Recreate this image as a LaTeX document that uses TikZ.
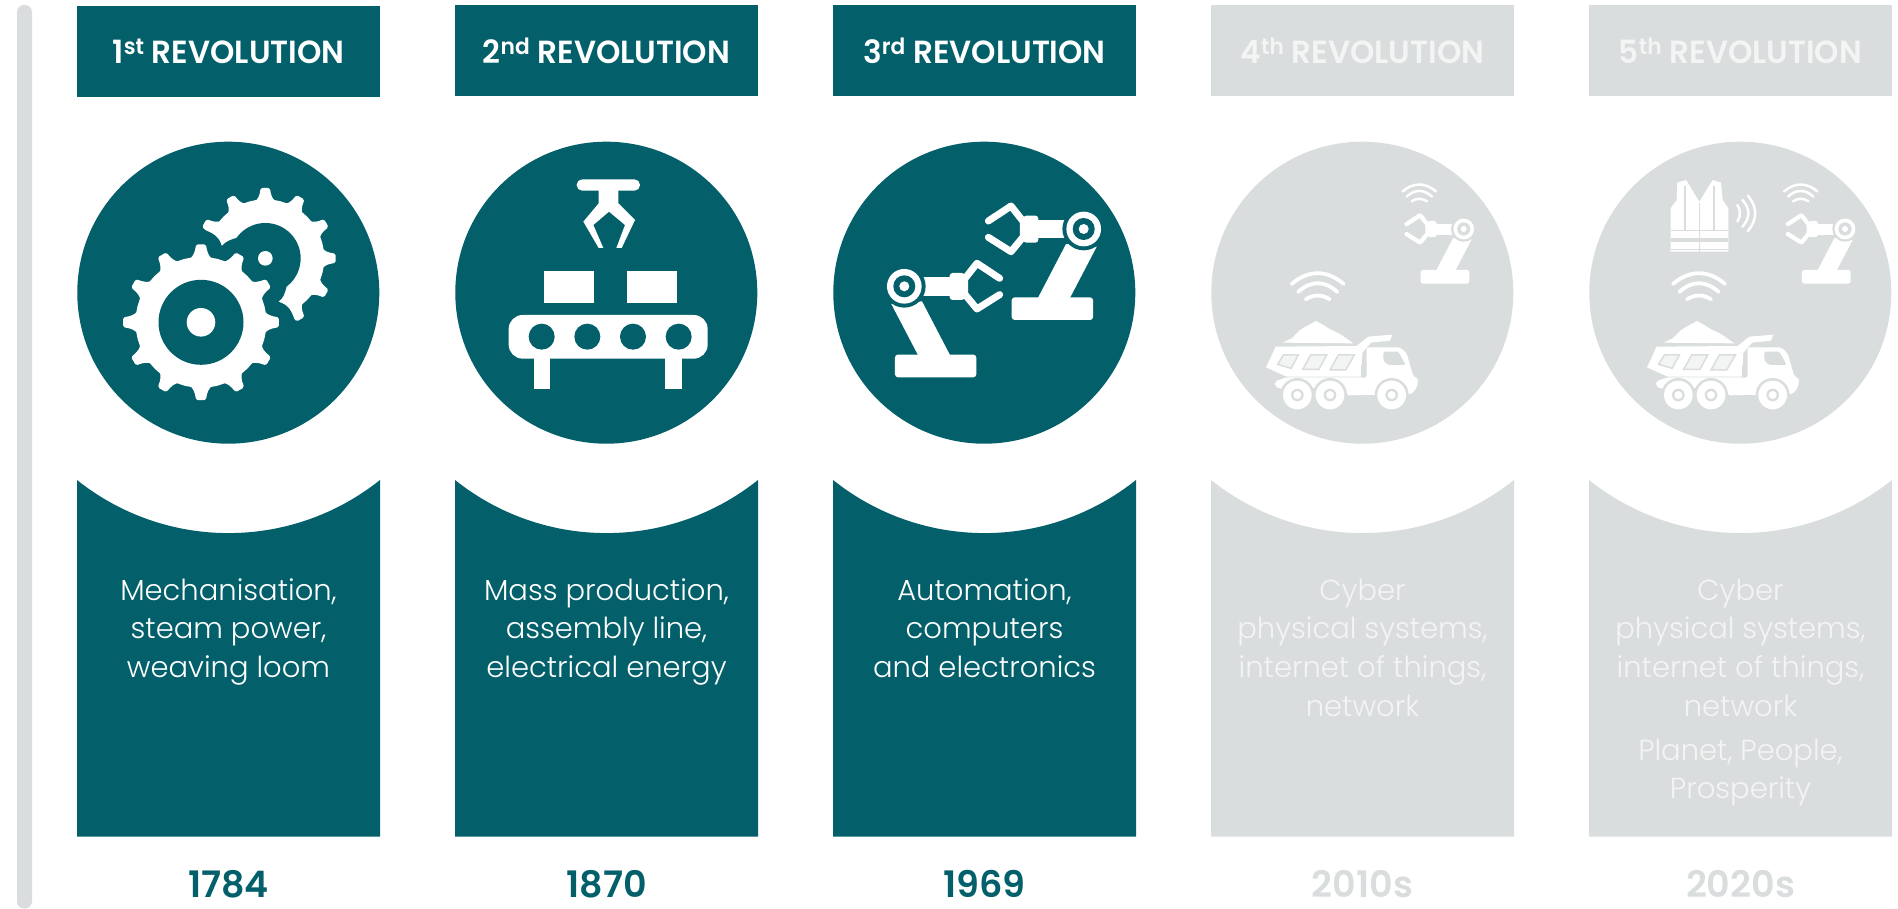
\documentclass[tikz,border=0pt]{standalone}
\usepackage{fontspec}
\setmainfont{Poppins Light}
\newfontfamily\headf[FakeStretch=0.97]{Poppins SemiBold}
\newfontfamily\yearf{Poppins SemiBold}
\definecolor{teal}{HTML}{03606A}
\definecolor{pale}{HTML}{DADDDE}
\definecolor{ink}{HTML}{F3F4F4}
\tikzset{
  head/.style={rectangle,minimum width=303pt,minimum height=91pt,inner sep=0pt,anchor=north west},
  headtext/.style={anchor=base,inner sep=0pt,text=white,font=\headf\fontsize{32}{38}\selectfont},
  disc/.style={circle,minimum size=302pt,inner sep=0pt},
  bodytext/.style={anchor=north,inner sep=0pt,align=center,font=\fontsize{29}{38.7}\selectfont},
  yeartext/.style={anchor=base,inner sep=0pt,font=\yearf\fontsize{36.5}{40}\selectfont},
}
\newcommand{\gearshape}[4]{% cx cy rtip rvalley
  \begin{scope}[shift={(#1,#2)}]
  \pgfmathsetmacro{\rtp}{#3-2}\pgfmathsetmacro{\rvl}{#4-2}
  \fill[white,draw=white,line width=4pt,line join=round] (-15:\rvl)
    \foreach \a in {0,30,...,330}{
      -- ({\a-8}:\rvl)
      .. controls ({\a-5.5}:\rvl+2) and ({\a-3.5}:\rtp-7) .. ({\a-2.4}:\rtp)
      -- ({\a+2.4}:\rtp)
      .. controls ({\a+3.5}:\rtp-7) and ({\a+5.5}:\rvl+2) .. ({\a+8}:\rvl)
      -- ({\a+15}:\rvl)
    } -- cycle;
  \end{scope}}
\newcommand{\wifimark}[5]{% x y scale rotate lw
  \begin{scope}[shift={(#1,#2)},x=#3/3*1pt,y=-#3/3*1pt,rotate=#4,line width=#5pt,line cap=round,white]
  \draw (-78,2) .. controls (-28,-41) and (28,-41) .. (78,2);
  \draw (-59,26) .. controls (-20,-9) and (20,-9) .. (59,26);
  \draw (-36,48) .. controls (-12,33) and (12,33) .. (36,48);
  \end{scope}}
\newcommand{\robotmark}[5]{% x y scale mirror halo
  \begin{scope}[shift={(#1,#2)},x=#3/3*1pt,y=-#3/3*1pt,xscale=#4]
  \fill[white,rounded corners=#3*3pt] (-216,205) rectangle (28,273);
  \fill[white] (-53,45) -- (-139,210) -- (-43,210) -- (39,53) -- cycle;
  \fill[white] (-140,-27) rectangle (-40,28);
  \fill[white,rounded corners=#3*3pt] (-181,-40) rectangle (-136,41);
  \draw[white,line width=#3*7pt,line cap=round,line join=round]
    (-286,-24) -- (-218,-69) -- (-181,-22) -- (-181,23) -- (-218,68) -- (-286,25);
  \fill[#5] (0,0) circle[radius=64];
  \fill[white] (0,0) circle[radius=52];
  \fill[#5] (0,0) circle[radius=33];
  \fill[white] (0,0) circle[radius=15];
  \end{scope}}
\newcommand{\truckmark}[2]{% x y (origin of the drawing)
  \begin{scope}[shift={(#1,#2)},x=1/3*1pt,y=-1/3*1pt]
  \fill[white] (83,98) -- (110,85) -- (135,60) -- (155,48) -- (183,33) -- (205,45) -- (225,58) -- (255,72) -- (295,100) -- cycle;
  \fill[white] (62,110) -- (305,108) -- (340,80) -- (412,74) -- (405,92) -- (348,98) -- (322,128) -- (318,200) -- (95,200) -- (33,172) -- cycle;
  \filldraw[fill=ink,draw=pale,line width=1.5pt] (85,135) -- (130,135) -- (108,175) -- (68,163) -- cycle;
  \filldraw[fill=ink,draw=pale,line width=1.5pt] (167,135) -- (215,135) -- (192,178) -- (143,178) -- cycle;
  \filldraw[fill=ink,draw=pale,line width=1.5pt] (250,135) -- (298,135) -- (272,180) -- (225,180) -- cycle;
  \fill[white,rounded corners=2pt] (335,112) -- (435,112) -- (455,130) -- (475,200) -- (490,205) -- (486,232) -- (470,252) -- (275,256) -- (270,232) -- (72,236) -- (60,228) -- (60,214) -- (95,202) -- (335,202) -- cycle;
  \fill[pale] (318,202) -- (318,170) -- (332,145) -- (332,202) -- cycle;
  \fill[pale,rounded corners=1.5pt] (385,125) -- (430,125) -- (452,165) -- (400,165) -- (385,152) -- cycle;
  \foreach \w in {127,225,410}{
    \fill[pale] (\w,255) circle[radius=51];
    \fill[white] (\w,255) circle[radius=43];
    \fill[pale] (\w,255) circle[radius=19];
    \fill[white] (\w,255) circle[radius=12];
  }
  \end{scope}}
\begin{document}
\begin{tikzpicture}[x=1pt,y=-1pt]
\useasboundingbox (0,0) rectangle (1898,909);
\fill[white] (0,0) rectangle (1898,909);
% side bar
\fill[pale,rounded corners=7pt] (17,5) rectangle (32,908.5);
% headers
\node[head,fill=teal] (h1) at (77,6) {};
\node[head,fill=teal] (h2) at (455,5) {};
\node[head,fill=teal] (h3) at (833,5) {};
\node[head,fill=pale] (h4) at (1211,5) {};
\node[head,fill=pale] (h5) at (1589,5) {};
\node[headtext] (t1) at (228.5,63.5) {1\textsuperscript{st} REVOLUTION};
\node[headtext] (t2) at (606.5,63.5) {2\textsuperscript{nd} REVOLUTION};
\node[headtext] (t3) at (984.5,63.5) {3\textsuperscript{rd} REVOLUTION};
\node[headtext,text=ink] (t4) at (1362.5,63.5) {4\textsuperscript{th} REVOLUTION};
\node[headtext,text=ink] (t5) at (1740.5,63.5) {5\textsuperscript{th} REVOLUTION};
% discs
\node[disc,fill=teal] (c1) at (228.3,292.7) {};
\node[disc,fill=teal] (c2) at (606.3,292.7) {};
\node[disc,fill=teal] (c3) at (984.3,292.7) {};
\node[disc,fill=pale] (c4) at (1362.3,292.7) {};
\node[disc,fill=pale] (c5) at (1740.3,292.7) {};
% panels
\foreach \x/\c in {77/teal,455/teal,833/teal,1211/pale,1589/pale}{
  \fill[\c] (\x,480) .. controls (\x+88.7,550.8) and (\x+214.3,550.8) .. (\x+303,480) -- (\x+303,836.7) -- (\x,836.7) -- cycle;
}
% gears
\gearshape{265.3}{258.3}{70.5}{59}
\begin{scope}[x=1/3*1pt,y=-1/3*1pt]
\fill[teal] (796,775) circle[radius=106];
\fill[teal] (712,713) .. controls (695,718) and (680,722) .. (665,738) .. controls (660,715) and (640,695) .. (603,688) -- (560,700) -- (560,1050) -- (885,1050) -- (885,965) .. controls (875,930) and (865,915) .. (835,905) .. controls (850,895) and (855,880) .. (860,858) -- cycle;
\fill[white] (796,775) circle[radius=22];
\end{scope}
\gearshape{201}{322.3}{78}{65.5}
\fill[teal] (201,322.3) circle[radius=42.5];
\fill[white] (201,322.3) circle[radius=14.3];
% conveyor
\begin{scope}[shift={(440,120)},x=1/3*1pt,y=-1/3*1pt]
\fill[white,rounded corners=5.5pt] (410,178) rectangle (600,212);
\fill[white] (476,205) -- (476,250) -- (430,305) -- (476,384) -- (490,384) -- (460,315) -- (507,275) -- (555,315) -- (529,384) -- (545,384) -- (585,300) -- (535,250) -- (535,205) -- cycle;
\fill[white] (313,454) rectangle (462,548);
\fill[white] (562,454) rectangle (711,548);
\fill[white,rounded corners=14pt] (206,585) rectangle (803,716);
\fill[white] (281,710) rectangle (329,808);
\fill[white] (676,710) rectangle (725,808);
\foreach \q in {305,442,579,716}{\fill[teal] (\q,650) circle[radius=39];}
\end{scope}
% robots
\robotmark{1083.7}{229}{1}{1}{teal}
\robotmark{904.3}{286.3}{1}{-1}{teal}
\robotmark{1463.7}{229}{0.6}{1}{pale}
\robotmark{1845}{229}{0.6}{1}{pale}
% wifi
\wifimark{1317.7}{283.3}{1}{0}{3.8}
\wifimark{1419.3}{191}{0.64}{0}{2.5}
\wifimark{1699}{283.3}{1}{0}{3.8}
\wifimark{1800.7}{191}{0.64}{0}{2.5}
% trucks
\truckmark{1255}{310}
\truckmark{1636}{310}
% vest
\begin{scope}[shift={(1660,170)},x=1/3*1pt,y=-1/3*1pt]
\fill[white] (52,38) -- (78,30) -- (118,95) -- (158,30) -- (183,38) -- (188,90) -- (205,115) -- (205,245) -- (32,245) -- (32,115) -- (50,90) -- cycle;
\fill[pale] (71,48) rectangle (77,180);
\fill[pale] (160,48) rectangle (166,180);
\fill[pale] (117,100) rectangle (120,245);
\fill[pale] (32,179) rectangle (205,184);
\fill[pale] (32,205) rectangle (205,215);
\fill[pale] (32,238) rectangle (205,241);
\end{scope}
\wifimark{1748.3}{213.3}{0.68}{-90}{2.5}
% texts
\node[bodytext,text=white] (b1) at (228.5,573) {\strut Mechanisation,\\\strut steam power,\\\strut weaving loom};
\node[bodytext,text=white] (b2) at (606.5,573) {\strut Mass production,\\\strut assembly line,\\\strut electrical energy};
\node[bodytext,text=white] (b3) at (984.5,573) {\strut Automation,\\\strut computers\\\strut and electronics};
\node[bodytext,text=ink] (b4) at (1362.5,573) {\strut Cyber\\\strut physical systems,\\\strut internet of things,\\\strut network};
\node[bodytext,text=ink] (b5) at (1740.5,573) {\strut Cyber\\\strut physical systems,\\\strut internet of things,\\\strut network\\[5pt]\strut Planet, People,\\\strut Prosperity};
% years
\node[yeartext,text=teal] (y1) at (228.5,897) {1784};
\node[yeartext,text=teal] (y2) at (606.5,897) {1870};
\node[yeartext,text=teal] (y3) at (984.5,897) {1969};
\node[yeartext,text=pale] (y4) at (1362.5,897) {2010s};
\node[yeartext,text=pale] (y5) at (1740.5,897) {2020s};
\end{tikzpicture}
\end{document}
